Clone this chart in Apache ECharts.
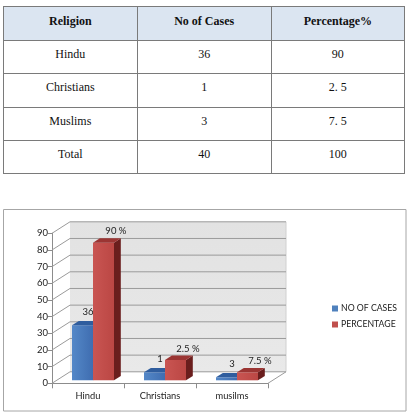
<!DOCTYPE html>
<html><head><meta charset="utf-8">
<script src="https://cdn.jsdelivr.net/npm/echarts@6/dist/echarts.min.js"></script>
<style>
html,body{margin:0;padding:0;background:#fff;width:408px;height:419px;overflow:hidden}
#chart{position:absolute;left:0;top:0;width:408px;height:419px}
#tbl{position:absolute;left:3px;top:6px;width:402px;border-collapse:collapse;table-layout:fixed;font-family:"Liberation Serif","Times New Roman",serif;font-size:12px;color:#111;z-index:2;background:#fff}
#tbl td{border:1px solid #7a7a7a;text-align:center;vertical-align:top;padding:0;box-sizing:border-box;font-family:"Liberation Serif","Times New Roman",serif;}
#tbl tr.h td{background:#dbe5f1;font-weight:bold;height:34px;padding-top:7px}
#tbl tr.r td{height:33.3px;padding-top:6px}
</style>
</head><body>
<div id="chart"></div>
<table id="tbl"></table>
<script>
// ---- table data ----
const tableHeader = ['Religion', 'No of Cases', 'Percentage%'];
const tableReligion = ['Hindu', 'Christians', 'Muslims', 'Total'];
const tableCases = ['36', '1', '3', '40'];
const tablePercent = ['90', '2. 5', '7. 5', '100'];

// ---- chart data ----
const categories = ['Hindu', 'Christians', 'musilms'];
const casesBar = [33, 4.8, 1.8];
const percentBar = [82.6, 12.2, 4.8];
const casesLabels = ['36', '1', '3'];
const percentLabels = ['90 %', '2.5 %', '7.5 %'];
const yTicks = [0, 10, 20, 30, 40, 50, 60, 70, 80, 90];
const seriesNames = ['NO OF CASES', 'PERCENTAGE'];

// build table
(function(){
  const t = document.getElementById('tbl');
  let html = '<colgroup><col style="width:133.7px"><col style="width:134px"><col></colgroup>';
  html += '<tr class="h">' + tableHeader.map(h => '<td>' + h + '</td>').join('') + '</tr>';
  for (let i = 0; i < tableReligion.length; i++) {
    html += '<tr class="r"><td>' + tableReligion[i] + '</td><td>' + tableCases[i] + '</td><td>' + tablePercent[i] + '</td></tr>';
  }
  t.innerHTML = html;
})();

const chart = echarts.init(document.getElementById('chart'), null, {renderer: 'canvas'});
const FONT = 'Lato, "Open Sans", sans-serif';
const WD = [18, -11.5];       // wall depth offset
const BO = [5, -3];           // bar front offset
const BD = [6.8, -4.4];       // bar depth
const BW = 21;                // bar width

function wallRender(params, api) {
  const cs = params.coordSys;
  const left = cs.x, right = cs.x + cs.width;
  const v = api.value(1);
  const y = api.coord([0, v])[1];
  const children = [];
  const lineStyle = {stroke: '#9a9a9a', lineWidth: 1};
  if (params.dataIndex === 0) {
    const yTop = api.coord([0, yTicks[yTicks.length - 1]])[1];
    children.push({type: 'rect', shape: {x: left + WD[0], y: yTop + WD[1], width: cs.width, height: y - yTop},
      style: {fill: new echarts.graphic.LinearGradient(0, 0, 0, 1, [{offset: 0, color: '#e2e2e2'}, {offset: 1, color: '#e9e9e9'}])}});
    children.push({type: 'line', shape: {x1: right, y1: y, x2: right + WD[0], y2: y + WD[1]}, style: lineStyle});
    children.push({type: 'line', shape: {x1: right + WD[0], y1: y + WD[1], x2: right + WD[0], y2: yTop + WD[1]}, style: {stroke: '#d0d0d0', lineWidth: 1}});
  }
  children.push({type: 'line', shape: {x1: left, y1: y, x2: left + WD[0], y2: y + WD[1]}, style: lineStyle});
  children.push({type: 'line', shape: {x1: left + WD[0], y1: y + WD[1], x2: right + WD[0], y2: y + WD[1]}, style: lineStyle});
  return {type: 'group', children: children};
}

function makeBarRender(idx, labels, c, lblOff) {
  return function(params, api) {
    const cat = api.value(0), val = api.value(1);
    const base = api.coord([cat, 0]);
    const top = api.coord([cat, val]);
    const x0 = base[0] + (idx === 0 ? -BW : 0) + BO[0];
    const x1 = x0 + BW;
    const yb = base[1] + BO[1], yt = top[1] + BO[1];
    const front = {type: 'rect', shape: {x: x0, y: yt, width: BW, height: yb - yt},
      style: {fill: new echarts.graphic.LinearGradient(0, 0, 1, 0, [{offset: 0, color: c.f1}, {offset: 1, color: c.f2}])}};
    const topFace = {type: 'polygon', shape: {points: [[x0, yt], [x1, yt], [x1 + BD[0], yt + BD[1]], [x0 + BD[0], yt + BD[1]]]},
      style: {fill: c.top}};
    const side = {type: 'polygon', shape: {points: [[x1, yt], [x1, yb], [x1 + BD[0], yb + BD[1]], [x1 + BD[0], yt + BD[1]]]},
      style: {fill: c.side}};
    const cx = (x0 + x1) / 2 + BD[0] / 2;
    const label = {type: 'text', x: cx + lblOff[0], y: yt + BD[1] + lblOff[1],
      style: {text: labels[params.dataIndex], fill: '#222', font: '9.5px ' + FONT, align: 'center', verticalAlign: 'middle'}};
    return {type: 'group', children: [side, front, topFace, label]};
  };
}

const blue = {f1: '#5488c8', f2: '#3f6db0', top: '#2f5d9e', side: '#253f6a'};
const red = {f1: '#c95552', f2: '#bb4744', top: '#9b3533', side: '#6a1e1d'};

chart.setOption({
  animation: false,
  textStyle: {fontFamily: FONT},
  grid: {left: 52, right: 140, top: 233.3, bottom: 35.7, containLabel: false},
  xAxis: {
    type: 'category', data: categories,
    axisLine: {show: true, lineStyle: {color: '#8c8c8c'}},
    axisTick: {show: true, length: 5, lineStyle: {color: '#8c8c8c'}},
    axisLabel: {color: '#222', fontSize: 9.3, fontFamily: FONT, margin: 8},
    splitLine: {show: false}
  },
  yAxis: {
    type: 'value', min: 0, max: 90, interval: 10,
    axisLine: {show: true, lineStyle: {color: '#8c8c8c'}},
    axisTick: {show: true, length: 4, lineStyle: {color: '#8c8c8c'}},
    axisLabel: {color: '#222', fontSize: 9.5, fontFamily: FONT, margin: 4},
    splitLine: {show: false}
  },
  legend: {
    orient: 'vertical', left: 332, top: 304, padding: 0, icon: 'rect', itemWidth: 6, itemHeight: 6, itemGap: 7,
    textStyle: {fontSize: 8.7, color: '#222', fontFamily: FONT, padding: [0, 0, 0, -2]},
    data: seriesNames
  },
  graphic: [{type: 'rect', shape: {x: 3.5, y: 209.5, width: 402.5, height: 201.5}, style: {fill: 'none', stroke: '#a6a6a6', lineWidth: 1}, z: -1}],
  series: [
    {type: 'custom', name: 'wall', silent: true, z: 1, renderItem: wallRender, data: yTicks.map(v => [0, v])},
    {type: 'custom', name: seriesNames[0], z: 3, itemStyle: {color: '#4f81bd'}, renderItem: makeBarRender(0, casesLabels, blue, [2, -8.5]),
      data: categories.map((c, i) => [i, casesBar[i]])},
    {type: 'custom', name: seriesNames[1], z: 4, itemStyle: {color: '#c0504d'}, renderItem: makeBarRender(1, percentLabels, red, [9, -7]),
      data: categories.map((c, i) => [i, percentBar[i]])}
  ]
});
</script>
</body></html>
